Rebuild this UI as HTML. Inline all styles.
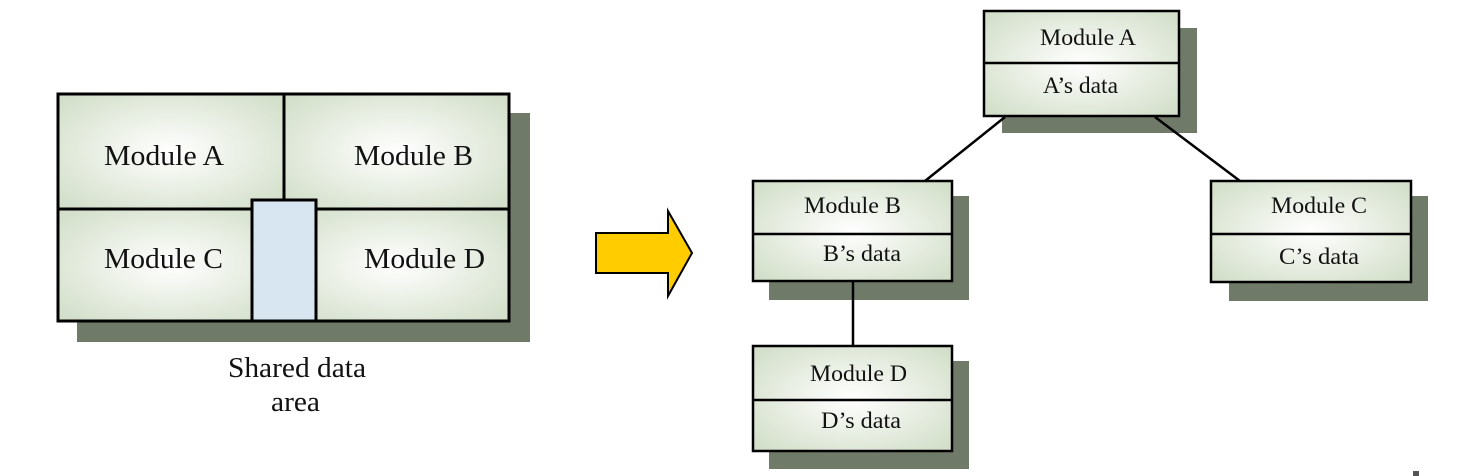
<!DOCTYPE html>
<html><head><meta charset="utf-8"><style>
html,body{margin:0;padding:0;background:#fff;}
svg{display:block;}
text{font-family:"Liberation Serif",serif;fill:#111;}
</style></head><body>
<svg width="1457" height="476" viewBox="0 0 1457 476" xmlns="http://www.w3.org/2000/svg">
<defs>
<radialGradient id="g" cx="50%" cy="50%" r="65%">
<stop offset="0" stop-color="#ffffff"/>
<stop offset="1" stop-color="#d3dfca"/>
</radialGradient>
</defs>
<!-- Left block -->
<rect x="77" y="113" width="453" height="229" fill="#6f7a69"/>
<rect x="58" y="94" width="225" height="115" fill="url(#g)"/>
<rect x="284" y="94" width="225" height="115" fill="url(#g)"/>
<rect x="58" y="209" width="225" height="112" fill="url(#g)"/>
<rect x="284" y="209" width="225" height="112" fill="url(#g)"/>
<rect x="58" y="94" width="451" height="227" fill="none" stroke="#000" stroke-width="3"/>
<line x1="284" y1="94" x2="284" y2="200" stroke="#000" stroke-width="3"/>
<line x1="58" y1="209" x2="509" y2="209" stroke="#000" stroke-width="3"/>
<rect x="252" y="200" width="64" height="121" fill="#d8e6f2" stroke="#000" stroke-width="3"/>
<text x="104" y="165" font-size="28" textLength="120" lengthAdjust="spacingAndGlyphs">Module A</text>
<text x="354" y="165" font-size="28" textLength="119" lengthAdjust="spacingAndGlyphs">Module B</text>
<text x="104" y="268" font-size="28" textLength="119" lengthAdjust="spacingAndGlyphs">Module C</text>
<text x="364" y="268" font-size="28" textLength="121" lengthAdjust="spacingAndGlyphs">Module D</text>
<text x="228" y="377" font-size="28" textLength="138" lengthAdjust="spacingAndGlyphs">Shared data</text>
<text x="271" y="411" font-size="28" textLength="49" lengthAdjust="spacingAndGlyphs">area</text>
<!-- Arrow -->
<polygon points="596,233 668,233 668,211 692,253 668,296 668,273 596,273" fill="#ffcc00" stroke="#000" stroke-width="2"/>
<!-- Module A -->
<rect x="1002" y="28" width="195" height="105" fill="#6f7a69"/>
<rect x="984" y="11" width="195" height="105" fill="url(#g)" stroke="#000" stroke-width="2.5"/>
<line x1="984" y1="63" x2="1179" y2="63" stroke="#000" stroke-width="2.5"/>
<text x="1040" y="45" font-size="23" textLength="96" lengthAdjust="spacingAndGlyphs">Module A</text>
<text x="1043" y="93" font-size="23" textLength="75" lengthAdjust="spacingAndGlyphs">A’s data</text>
<!-- Module B -->
<rect x="769" y="196" width="200" height="104" fill="#6f7a69"/>
<rect x="753" y="181" width="199" height="100" fill="url(#g)" stroke="#000" stroke-width="2.5"/>
<line x1="753" y1="234" x2="952" y2="234" stroke="#000" stroke-width="2.5"/>
<text x="804" y="213" font-size="23" textLength="97" lengthAdjust="spacingAndGlyphs">Module B</text>
<text x="823" y="261" font-size="23" textLength="78" lengthAdjust="spacingAndGlyphs">B’s data</text>
<!-- Module C -->
<rect x="1229" y="196" width="199" height="105" fill="#6f7a69"/>
<rect x="1211" y="181" width="200" height="101" fill="url(#g)" stroke="#000" stroke-width="2.5"/>
<line x1="1211" y1="234" x2="1411" y2="234" stroke="#000" stroke-width="2.5"/>
<text x="1271" y="213" font-size="23" textLength="96" lengthAdjust="spacingAndGlyphs">Module C</text>
<text x="1279" y="264" font-size="23" textLength="80" lengthAdjust="spacingAndGlyphs">C’s data</text>
<!-- Module D -->
<rect x="769" y="361" width="200" height="108" fill="#6f7a69"/>
<rect x="753" y="346" width="199" height="105" fill="url(#g)" stroke="#000" stroke-width="2.5"/>
<line x1="753" y1="400" x2="952" y2="400" stroke="#000" stroke-width="2.5"/>
<text x="810" y="381" font-size="23" textLength="97" lengthAdjust="spacingAndGlyphs">Module D</text>
<text x="821" y="428" font-size="23" textLength="80" lengthAdjust="spacingAndGlyphs">D’s data</text>
<!-- Connectors (on top) -->
<line x1="1005" y1="117" x2="925" y2="181" stroke="#000" stroke-width="2.5"/>
<line x1="1155" y1="117" x2="1240" y2="181" stroke="#000" stroke-width="2.5"/>
<line x1="853" y1="282" x2="853" y2="346" stroke="#000" stroke-width="2.5"/>
<rect x="1413" y="471" width="6" height="5" fill="#555"/>
</svg>
</body></html>
